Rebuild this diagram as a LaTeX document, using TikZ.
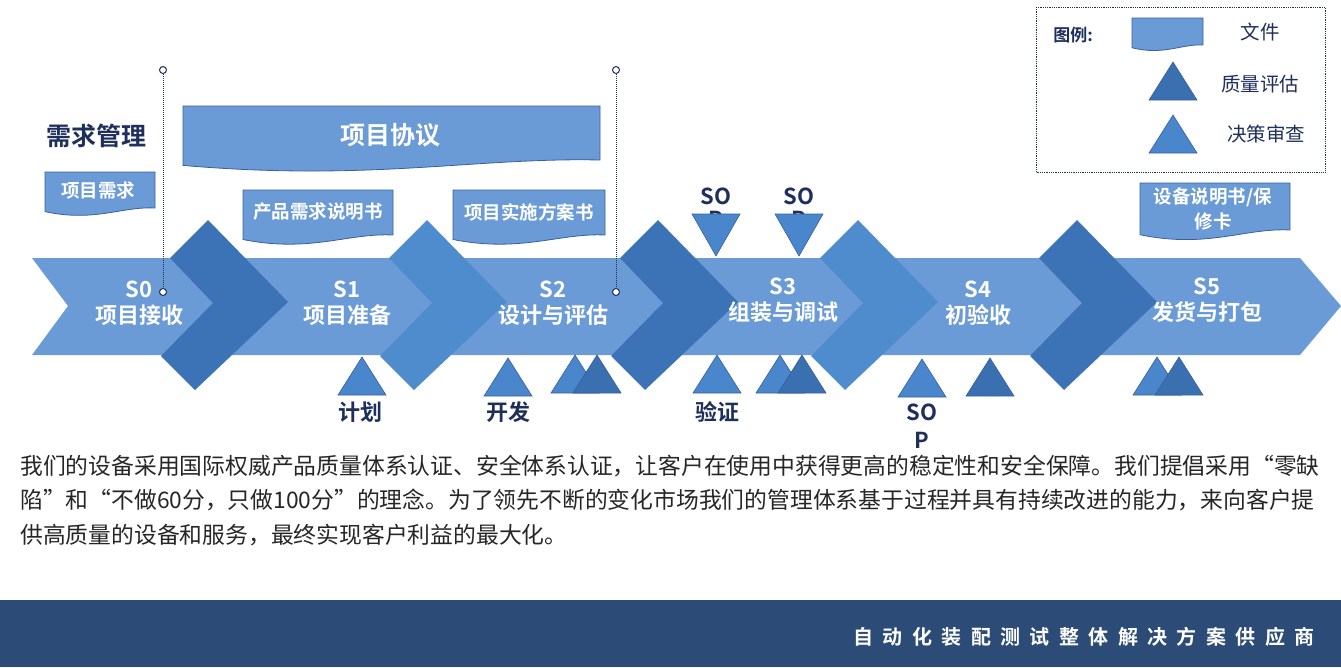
\documentclass[tikz,border=0pt]{standalone}
\usepackage{fontspec}
\setmainfont{Noto Sans CJK SC}[BoldFont={Noto Sans CJK SC Bold}]
\usetikzlibrary{calc}

\definecolor{bandblue}{HTML}{6A9BD6}
\definecolor{chevdark}{HTML}{3C73B6}
\definecolor{chevmid}{HTML}{4F8CCD}
\definecolor{docblue}{HTML}{6A9BD6}
\definecolor{docline}{HTML}{3A5FA0}
\definecolor{trilight}{HTML}{4A86CC}
\definecolor{tridark}{HTML}{3A6FB0}
\definecolor{navy}{HTML}{1F2F5C}
\definecolor{footblue}{HTML}{2C4B76}

\tikzset{
  docstyle/.style={fill=docblue,draw=docline,line width=0.8pt},
  tril/.style={fill=trilight,draw=docline,line width=0.6pt},
  trid/.style={fill=tridark,draw=docline,line width=0.6pt},
  stagetext/.style={text=white,font=\bfseries\fontsize{22}{26}\selectfont,align=center},
  doctext/.style={text=white,font=\bfseries\fontsize{18.5}{22}\selectfont,align=center},
  marktext/.style={text=navy,font=\bfseries\fontsize{22}{24}\selectfont,align=center},
  legtext/.style={text=navy,font=\fontsize{19.5}{22}\selectfont},
  bodytext/.style={text=black!85,font=\fontsize{22.8}{26}\selectfont,anchor=west,inner sep=0pt},
}

% document shape with wavy bottom
\newcommand\docbox[4]{%
  \pgfmathsetmacro\dw{#3-#1}\pgfmathsetmacro\dh{#4-#2}
  \filldraw[docstyle] (#1,#2) -- (#3,#2) -- (#3,#4)
    .. controls ({#3-0.3*\dw},{#4-0.05*\dh}) and ({#1+0.45*\dw},{#4+0.4*\dh}) .. (#1,{#4+0.1*\dh}) -- cycle;}
% triangles
\newcommand\triup[3]{\filldraw[#3] (#1,#2) -- ({#1+24},{#2+38}) -- ({#1-24},{#2+38}) -- cycle;}
\newcommand\tridown[3]{\filldraw[#3] (#1,{#2+42}) -- ({#1+24},#2) -- ({#1-24},#2) -- cycle;}
% chevron
\newcommand\chev[2]{\fill[#2] ({#1-43},258) -- ({#1-5},220) -- ({#1+75},302) -- ({#1-18},390) -- ({#1-52},356) -- (#1,303) -- cycle;}

\begin{document}
\begin{tikzpicture}[x=1pt,y=-1pt]
\useasboundingbox (0,0) rectangle (1341,667);

% main band
\fill[bandblue] (32,258) -- (1300,258) -- (1341,306) -- (1300,355) -- (32,355) -- (68,306) -- cycle;

% chevrons
\chev{213}{chevdark}
\chev{432}{chevmid}
\chev{663}{chevdark}
\chev{863}{chevmid}
\chev{1082}{chevdark}

% stage labels
\node[stagetext] (s0) at (139,303) {S0\\项目接收};
\node[stagetext] (s1) at (347,303) {S1\\项目准备};
\node[stagetext] (s2) at (553,303) {S2\\设计与评估};
\node[stagetext] (s3) at (783,300) {S3\\组装与调试};
\node[stagetext] (s4) at (978,303) {S4\\初验收};
\node[stagetext] (s5) at (1207,300) {S5\\发货与打包};

% milestones
\draw[navy,densely dotted,line width=1pt] (163,74) -- (163,288);
\draw[navy,densely dotted,line width=1pt] (616,74) -- (616,288);
\foreach \x in {163,616} {
  \draw[navy,line width=1pt,fill=white] (\x,70) circle[radius=3.5];
  \draw[navy,line width=1pt,fill=white] (\x,292) circle[radius=3.5];
}

% documents
\node[marktext,font=\bfseries\fontsize{25}{28}\selectfont] (req) at (96,136) {需求管理};
\docbox{183}{106}{600}{160}
\node[text=white,font=\bfseries\fontsize{25}{28}\selectfont] (agree) at (390,135) {项目协议};
\docbox{45}{172}{155}{208}
\node[doctext] (need) at (98,190) {项目需求};
\docbox{243}{190}{393}{235}
\node[doctext] (prd) at (318,212) {产品需求说明书};
\docbox{453}{190}{605}{235}
\node[doctext] (plan) at (529,212) {项目实施方案书};
\docbox{1140}{183}{1290}{230}
\node[doctext,font=\bfseries\fontsize{18.5}{25}\selectfont] (manual) at (1213,209) {设备说明书/保\\修卡};

% review points above the band
\node[marktext] (sopa) at (716,196) {SO};
\node[marktext] (sopap) at (716,219) {P};
\node[marktext] (sopb) at (799,196) {SO};
\node[marktext] (sopbp) at (799,219) {P};
\tridown{716}{214}{tril}
\tridown{799}{214}{tril}

% review points below the band
\triup{362}{357}{tril}
\triup{508}{358}{tril}
\triup{575}{355}{tril}
\triup{597}{355}{trid}
\triup{717}{355}{tril}
\triup{780}{355}{tril}
\triup{802}{355}{trid}
\triup{922}{359}{tril}
\triup{990}{358}{trid}
\triup{1157}{357}{tril}
\triup{1179}{357}{trid}
\node[marktext] (plan2) at (360,412) {计划};
\node[marktext] (dev) at (508,412) {开发};
\node[marktext] (ver) at (717,412) {验证};
\node[marktext,font=\bfseries\fontsize{22}{28}\selectfont] (sopc) at (922,426) {SO\\P};

% legend
\draw[navy,densely dotted,line width=0.8pt] (1036,7) rectangle (1325,172);
\node[marktext,font=\bfseries\fontsize{17}{20}\selectfont] (legend) at (1073,35) {图例:};
\docbox{1132}{18}{1203}{45}
\node[legtext] (lfile) at (1260,32) {文件};
\triup{1173}{62}{trid}
\node[legtext] (lqual) at (1260,84) {质量评估};
\triup{1173}{115}{tril}
\node[legtext] (ldec) at (1266,134) {决策审查};

% paragraph
\node[bodytext] (p1) at (20,466) {我们的设备采用国际权威产品质量体系认证、安全体系认证，让客户在使用中获得更高的稳定性和安全保障。我们提倡采用“零缺};
\node[bodytext] (p2) at (20,500) {陷”和“不做60分，只做100分”的理念。为了领先不断的变化市场我们的管理体系基于过程并具有持续改进的能力，来向客户提};
\node[bodytext] (p3) at (20,535) {供高质量的设备和服务，最终实现客户利益的最大化。};

% footer
\fill[footblue] (0,600) rectangle (1341,667);
\node[text=white,anchor=east,font=\bfseries\fontsize{20}{24}\selectfont\addfontfeature{LetterSpace=47}] (foot) at (1318,637) {自动化装配测试整体解决方案供应商};
\end{tikzpicture}
\end{document}
